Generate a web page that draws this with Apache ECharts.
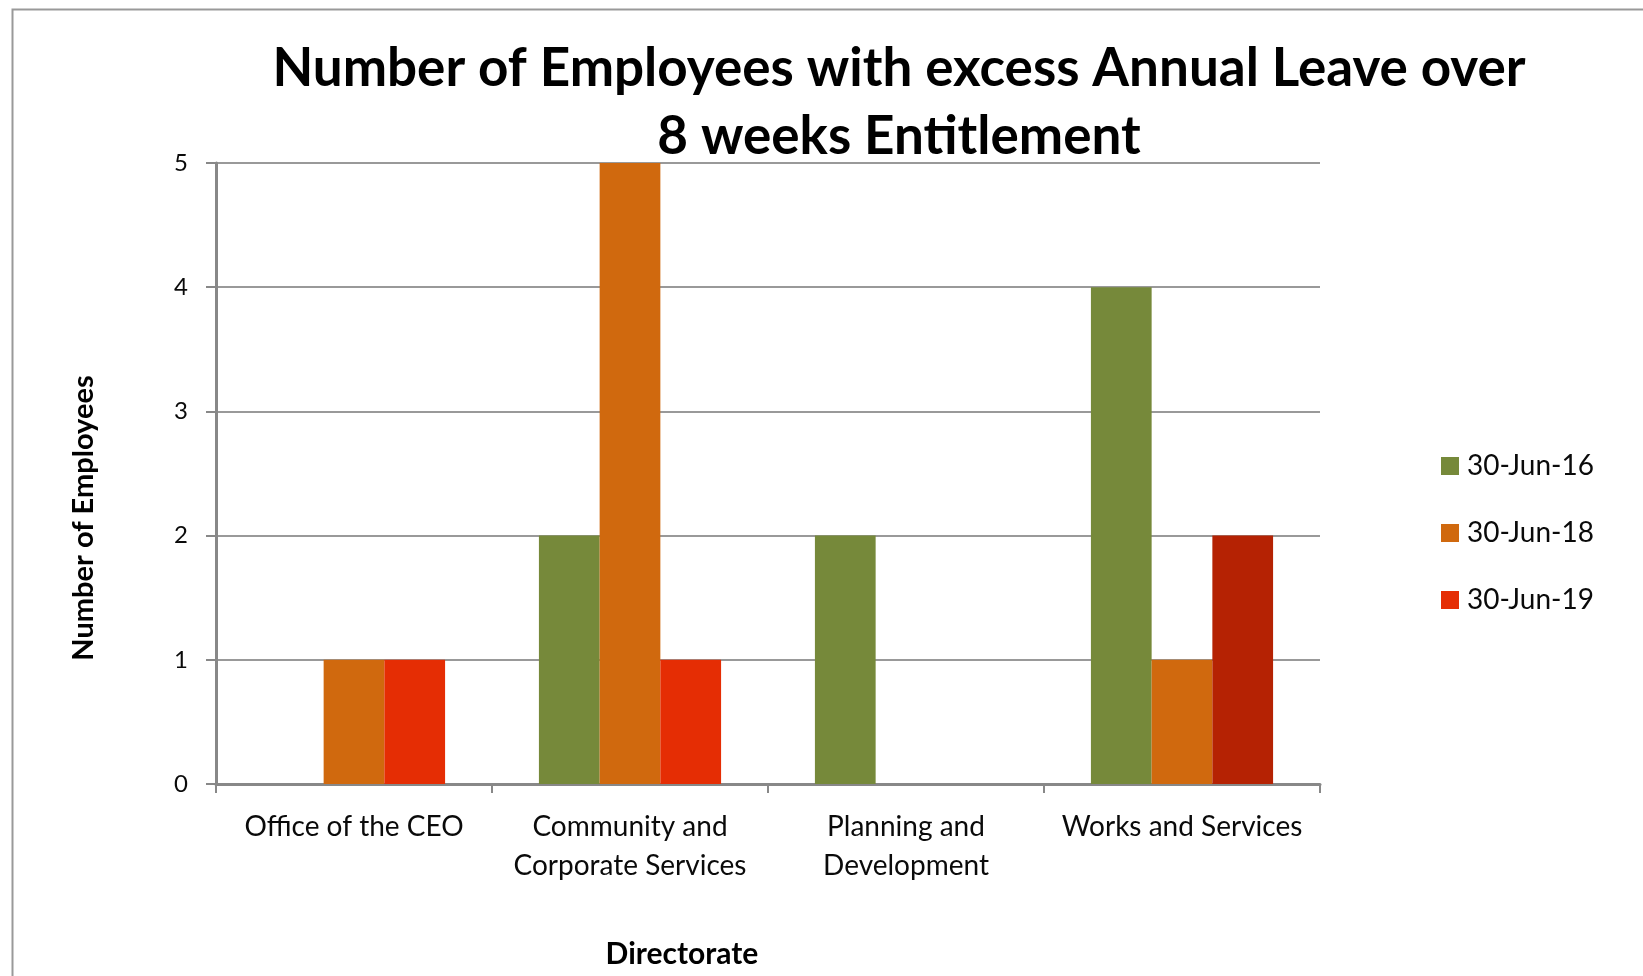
<!DOCTYPE html>
<html>
<head>
<meta charset="utf-8">
<script src="https://cdn.jsdelivr.net/npm/echarts@6/dist/echarts.min.js"></script>
<style>html,body{margin:0;padding:0;background:#fff}#c{width:1643px;height:976px}</style>
</head>
<body>
<div id="c"></div>
<script>
var categories = ['Office of the CEO', 'Community and\nCorporate Services', 'Planning and\nDevelopment', 'Works and Services'];
var seriesNames = ['30-Jun-16', '30-Jun-18', '30-Jun-19'];
var jun16 = [0, 2, 2, 4];
var jun18 = [1, 5, 0, 1];
var jun19 = [1, 1, 0, 2];
var yTicks = [0, 1, 2, 3, 4, 5];

var FONT = 'Lato';
var colors = ['#76893A', '#D0690E', '#E52D04'];
var darkRed = '#B52203';

var chart = echarts.init(document.getElementById('c'));
chart.setOption({
  backgroundColor: '#ffffff',
  animation: false,
  color: colors,
  title: {
    text: 'Number of Employees with excess Annual Leave over\n8 weeks Entitlement',
    left: 894, top: 30, textAlign: 'center',
    textStyle: { fontFamily: FONT, fontWeight: 'bold', fontSize: 53, lineHeight: 68, color: '#000' }
  },
  legend: {
    orient: 'vertical', left: 1436, top: 447,
    itemWidth: 18, itemHeight: 18, itemGap: 39,
    icon: 'rect',
    textStyle: { fontFamily: FONT, fontSize: 28, lineHeight: 28, color: '#0a0a0a', padding: [0,0,0,3] },
    data: seriesNames
  },
  grid: { left: 216, right: 323, top: 163, bottom: 192 },
  xAxis: {
    type: 'category', data: categories,
    axisLine: { lineStyle: { color: '#888', width: 3 } },
    axisTick: { show: true, length: 9, lineStyle: { color: '#888', width: 2 } },
    axisLabel: { fontFamily: FONT, fontSize: 28, color: '#0a0a0a', lineHeight: 39, margin: 23, interval: 0 }
  },
  yAxis: {
    type: 'value', min: 0, max: 5, interval: 1,
    axisLine: { show: true, lineStyle: { color: '#888', width: 3 } },
    axisTick: { show: true, length: 10, lineStyle: { color: '#888', width: 2 } },
    splitLine: { lineStyle: { color: '#999', width: 2 } },
    axisLabel: { fontFamily: FONT, fontSize: 24, color: '#0a0a0a', margin: 28,
      formatter: function (v) { return yTicks.indexOf(v) >= 0 ? String(v) : ''; } }
  },
  series: [
    { name: seriesNames[0], type: 'bar', data: jun16, barGap: '0%', barCategoryGap: '34%' },
    { name: seriesNames[1], type: 'bar', data: jun18, barGap: '0%', barCategoryGap: '34%' },
    { name: seriesNames[2], type: 'bar', barGap: '0%', barCategoryGap: '34%',
      data: jun19.map(function (v, i) { return i === 3 ? { value: v, itemStyle: { color: darkRed } } : v; }) }
  ],
  graphic: [
    { type: 'rect', left: 10, top: 7, shape: { width: 1700, height: 1100 }, style: { fill: 'none', stroke: '#999', lineWidth: 2 }, silent: true },
    { type: 'text', x: 84, y: 518, rotation: Math.PI / 2,
      style: { text: 'Number of Employees', font: 'bold 29px ' + FONT, fill: '#000', align: 'center', verticalAlign: 'middle' } },
    { type: 'text', x: 682, y: 954,
      style: { text: 'Directorate', font: 'bold 30px ' + FONT, fill: '#000', align: 'center', verticalAlign: 'middle' } }
  ]
});
</script>
</body>
</html>
